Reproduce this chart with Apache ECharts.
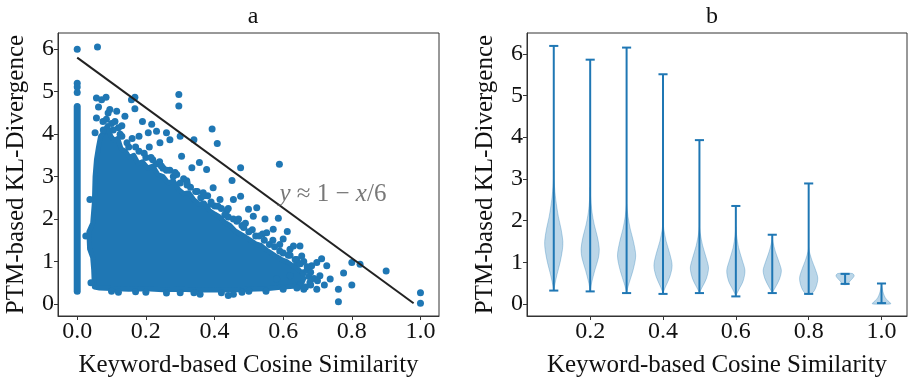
<!DOCTYPE html>
<html><head><meta charset="utf-8">
<script src="https://cdn.jsdelivr.net/npm/echarts@6/dist/echarts.min.js"></script>
<style>html,body{margin:0;padding:0;background:#fff}#c{width:914px;height:383px}</style>
</head><body><div id="c"></div>
<script>
// ---------- tick labels ----------
const xTicksA = [0, 0.2, 0.4, 0.6, 0.8, 1.0];
const xTicksB = [0.2, 0.4, 0.6, 0.8, 1.0];
const yTicks = [0, 1, 2, 3, 4, 5, 6];
const titles = ['a', 'b'];
const xName = 'Keyword-based Cosine Similarity';
const yName = 'PTM-based KL-Divergence';

// ---------- panel a: scatter ----------
// vertical strip of points at x = 0
const stripX = [0, 0];
const stripY = [0.3, 4.65];
// outline of the densely filled region of points
const blobX = [0.062,0.068,0.078,0.088,0.098,0.108,0.118,0.128,0.14,0.152,0.165,0.178,0.19,0.205,0.22,0.235,0.25,0.265,0.28,0.295,0.31,0.325,0.34,0.355,0.37,0.385,0.4,0.415,0.43,0.445,0.46,0.475,0.49,0.505,0.52,0.535,0.55,0.565,0.58,0.595,0.61,0.625,0.64,0.655,0.66,0.655,
  0.63,0.6,0.55,0.5,0.45,0.4,0.35,0.3,0.25,0.2,0.15,0.1,0.065,0.05,
  0.048,0.045,0.036,0.034,0.045,0.05,0.052,0.056];
const blobY = [3.7,3.95,4.05,4.2,3.95,3.85,3.9,3.65,3.6,3.45,3.5,3.3,3.35,3.2,3.25,3.05,3.0,2.85,2.9,2.7,2.6,2.62,2.45,2.35,2.38,2.2,2.12,2.05,1.92,1.85,1.72,1.65,1.58,1.5,1.42,1.38,1.28,1.2,1.12,1.05,1.0,0.92,0.85,0.72,0.6,0.5,
  0.42,0.4,0.36,0.35,0.33,0.34,0.33,0.35,0.34,0.36,0.35,0.37,0.38,0.4,
  0.8,1.1,1.3,1.7,1.9,2.4,3.0,3.4];
// individually visible points
const ptX = [0,0.059,0,0,0,0.296,0.296,0.589,0.393,0.408,0.476,0.451,0.476,0.586,0.612,0.712,0.8,0.824,0.9,0.776,0.8,0.761,0.761,1.0,1.0,0.34,0.30,
  0.056,0.071,0.084,0.062,0.095,0.056,0.115,0.139,0.158,0.168,0.168,0.19,0.217,0.207,0.231,0.26,0.27,0.241,0.052,0.076,0.12,
  0.304,0.334,0.356,0.319,0.377,0.396,0.367,0.416,0.401,0.435,0.455,0.499,0.523,0.455,0.513,0.547,0.552,0.571,0.6,0.62,0.63,0.649,0.654,0.64,0.683,0.698,0.727,0.737,0.707,0.678,0.649,0.698,0.455,0.44,0.358,0.581,0.62,0.659,
  0.15,0.18,0.2,0.23,0.25,0.28,0.32,0.36,0.39,0.43,0.48,0.52,0.56,0.6,0.64,0.67,0.69,0.1,0.13,0.085,0.1,0.2,0.3,0.5,0.6,0.04,0.025,0.037,
  0.22,0.24,0.27,0.29,0.31,0.33,0.35,0.38,0.41,0.44,0.47,0.49,0.51,0.54,0.57,0.59,0.62,0.66,0.68,0.7,0.72,0.66,0.09,0.11,0.13,0.16,0.18,0.21,
  0.075,0.105,0.125,0.145,0.17,0.195,0.215,0.245,0.26,0.285,0.3,0.32,0.345,0.37,0.39,0.42,0.44,0.465,0.485,0.5,0.53,0.545,0.575,0.59,0.615,0.635,0.65,0.67,0.675,0.68,0.665,0.64,
  0.12,0.17,0.26,0.34,0.42,0.48,0.55];
const ptY = [6.0,6.05,5.2,5.11,4.98,4.93,4.66,3.29,4.12,3.78,3.21,2.91,2.54,2.02,1.71,1.07,0.98,0.94,0.78,0.73,0.45,0.35,0.055,0.27,0.02,3.87,3.95,
  4.85,4.81,4.87,4.64,4.58,4.38,4.54,4.42,4.81,4.6,4.87,4.3,4.23,4.03,4.07,4.03,3.87,3.8,4.03,4.1,4.15,
  3.48,3.21,3.33,2.9,3.17,2.74,2.62,2.46,2.31,2.19,2.46,2.23,2.27,2.0,2.07,2.0,1.68,1.76,1.53,1.29,1.37,1.37,1.13,0.98,0.9,0.98,0.9,0.59,0.67,0.51,0.43,0.35,0.23,0.2,0.23,0.59,0.67,0.74,
  3.7,3.6,3.45,3.3,3.2,3.0,2.8,2.5,2.35,2.1,1.85,1.6,1.4,1.2,1.05,0.8,0.6,4.25,3.95,4.35,0.3,0.28,0.27,0.3,0.35,0.5,1.6,2.46,
  3.4,3.35,3.15,3.05,2.95,2.75,2.65,2.55,2.3,2.25,2.0,1.9,1.75,1.65,1.5,1.4,1.15,1.0,0.75,0.55,0.45,0.35,4.5,4.3,4.2,3.9,3.95,3.7,
  4.3,4.1,4.0,3.8,3.7,3.55,3.45,3.25,3.15,3.1,2.85,2.85,2.65,2.55,2.4,2.25,2.05,1.95,1.8,1.7,1.6,1.5,1.35,1.25,1.15,1.05,0.95,0.88,0.65,0.45,0.4,0.38,
  0.28,0.29,0.26,0.27,0.27,0.28,0.3];
// fitted line y ≈ 1 - x/6 (scaled)
const fitX = [0, 0.98];
const fitY = [5.8, 0.02];
const annoX = [0.745];
const annoY = [2.58];

// ---------- panel b: violins ----------
const violinPos = [0.1,0.2,0.3,0.4,0.5,0.6,0.7,0.8,0.9,1.0];
const violinMin = [0.32,0.30,0.26,0.24,0.26,0.18,0.26,0.24,0.48,0.02];
const violinMax = [6.19,5.86,6.15,5.51,3.93,2.35,1.66,2.89,0.72,0.49];
const profY = [
  [0.33,0.45,0.7,1.0,1.3,1.5,1.8,2.1,2.5,2.9,3.2],
  [0.32,0.5,0.8,1.1,1.32,1.6,1.9,2.2,2.6,2.8],
  [0.28,0.45,0.8,1.15,1.5,1.8,2.1,2.4],
  [0.26,0.4,0.65,0.92,1.2,1.5,1.8,2.0],
  [0.27,0.4,0.6,0.86,1.1,1.4,1.7,1.85],
  [0.2,0.35,0.55,0.8,1.05,1.35,1.65,1.85],
  [0.27,0.4,0.6,0.8,1.0,1.25,1.5,1.6],
  [0.25,0.4,0.62,0.85,1.05,1.25,1.35],
  [0.47,0.55,0.62,0.68,0.73,0.74],
  [0.0,0.05,0.12,0.2,0.3,0.4,0.45]
];
const profW = [
  [0,0.1,0.35,0.7,0.95,1.0,0.8,0.5,0.22,0.05,0],
  [0,0.15,0.5,0.9,1.0,0.8,0.45,0.2,0.03,0],
  [0,0.2,0.7,1.0,0.75,0.4,0.15,0],
  [0,0.25,0.75,1.0,0.75,0.35,0.08,0],
  [0,0.3,0.75,1.0,0.75,0.35,0.08,0],
  [0,0.35,0.8,1.0,0.7,0.3,0.08,0],
  [0,0.35,0.8,1.0,0.75,0.35,0.06,0],
  [0.35,0.8,1.0,0.7,0.35,0.08,0],
  [0.25,0.55,0.85,1.0,0.8,0],
  [1.0,0.85,0.5,0.3,0.15,0.05,0]
];

// ---------- styles ----------
const FONT = 'Liberation Serif';
const BLUE = '#1f77b4';
const VIOLIN_HALF = 0.025;
const CAP_HALF = 0.0125;
const TICK_FS = 24, NAME_FS = 25;

const zip = (a, b) => a.map((v, i) => [v, b[i]]);

function axisX(idx, min, max, ticks) {
  return {
    type: 'value', gridIndex: idx, min, max,
    splitLine: {show: false},
    axisLine: {show: true, onZero: false, lineStyle: {color: '#333', width: 1}},
    axisTick: {show: true, customValues: ticks, length: 4, lineStyle: {color: '#333'}},
    axisLabel: {customValues: ticks, formatter: v => v.toFixed(1), fontSize: TICK_FS, color: '#111', fontFamily: FONT, margin: 4},
    name: xName, nameLocation: 'middle', nameGap: 37,
    nameTextStyle: {fontSize: NAME_FS, color: '#111', fontFamily: FONT}
  };
}
function axisY(idx, min, max) {
  return {
    type: 'value', gridIndex: idx, min, max,
    splitLine: {show: false},
    axisLine: {show: true, onZero: false, lineStyle: {color: '#333', width: 1}},
    axisTick: {show: true, customValues: yTicks, length: 4, lineStyle: {color: '#333'}},
    axisLabel: {customValues: yTicks, formatter: v => String(v), fontSize: TICK_FS, color: '#111', fontFamily: FONT, margin: 4},
    name: yName, nameLocation: 'middle', nameGap: 29, nameRotate: 90,
    nameTextStyle: {fontSize: NAME_FS, color: '#111', fontFamily: FONT}
  };
}

const chart = echarts.init(document.getElementById('c'), null, {renderer: 'canvas'});
chart.setOption({
  animation: false,
  backgroundColor: '#fff',
  title: [
    {text: titles[0], left: 248, top: 0, textAlign: 'center', textStyle: {fontSize: 24, fontWeight: 'normal', fontFamily: FONT, color: '#111'}},
    {text: titles[1], left: 707, top: 0, textAlign: 'center', textStyle: {fontSize: 24, fontWeight: 'normal', fontFamily: FONT, color: '#111'}}
  ],
  grid: [
    {left: 58, top: 33, width: 381, height: 284, show: true, borderColor: '#333', borderWidth: 1},
    {left: 527, top: 33, width: 380, height: 284, show: true, borderColor: '#333', borderWidth: 1}
  ],
  xAxis: [axisX(0, -0.056, 1.054, xTicksA), axisX(1, 0.0265, 1.07, xTicksB)],
  yAxis: [axisY(0, -0.28, 6.38), axisY(1, -0.29, 6.5)],
  series: [
    {
      type: 'custom', xAxisIndex: 0, yAxisIndex: 0, data: [[0, 0]], silent: true, z: 2,
      renderItem: (params, api) => ({
        type: 'polygon',
        shape: {points: blobX.map((x, i) => api.coord([x, blobY[i]]))},
        style: {fill: BLUE, stroke: BLUE, lineWidth: 5, lineJoin: 'round'}
      })
    },
    {
      type: 'line', xAxisIndex: 0, yAxisIndex: 0, data: zip(stripX, stripY), symbol: 'none', silent: true, z: 2,
      lineStyle: {color: BLUE, width: 7, cap: 'round'}
    },
    {
      type: 'scatter', xAxisIndex: 0, yAxisIndex: 0, data: zip(ptX, ptY), symbolSize: 7, silent: true, z: 3,
      itemStyle: {color: BLUE, opacity: 1}
    },
    {
      type: 'line', xAxisIndex: 0, yAxisIndex: 0, data: zip(fitX, fitY), symbol: 'none', silent: true, z: 4,
      lineStyle: {color: '#222', width: 2}
    },
    {
      type: 'scatter', xAxisIndex: 0, yAxisIndex: 0, data: zip(annoX, annoY), symbolSize: 0, silent: true, z: 5,
      label: {
        show: true, position: 'inside',
        formatter: '{i|y} ≈ 1 − {i|x}/6',
        fontSize: 25, fontFamily: FONT, color: '#555',
        rich: {i: {fontStyle: 'italic', fontSize: 25, fontFamily: FONT, color: '#555'}}
      }
    },
    {
      type: 'custom', xAxisIndex: 1, yAxisIndex: 1, data: violinPos.map((p, i) => [p, violinMax[i]]), silent: true,
      renderItem: (params, api) => {
        const i = params.dataIndex;
        const x = violinPos[i];
        const right = profY[i].map((y, k) => api.coord([x + profW[i][k] * VIOLIN_HALF, y]));
        const left = profY[i].map((y, k) => api.coord([x - profW[i][k] * VIOLIN_HALF, y])).reverse();
        const lo = api.coord([x, violinMin[i]]);
        const hi = api.coord([x, violinMax[i]]);
        const cl = api.coord([x - CAP_HALF, violinMin[i]]);
        const cr = api.coord([x + CAP_HALF, violinMin[i]]);
        const tl = api.coord([x - CAP_HALF, violinMax[i]]);
        const tr = api.coord([x + CAP_HALF, violinMax[i]]);
        const ls = {stroke: BLUE, lineWidth: 2};
        return {
          type: 'group',
          children: [
            {type: 'polygon', shape: {points: right.concat(left), smooth: 0.3}, style: {fill: 'rgba(31,119,180,0.3)', stroke: 'rgba(31,119,180,0.3)', lineWidth: 1}},
            {type: 'line', shape: {x1: lo[0], y1: lo[1], x2: hi[0], y2: hi[1]}, style: ls},
            {type: 'line', shape: {x1: cl[0], y1: cl[1], x2: cr[0], y2: cr[1]}, style: ls},
            {type: 'line', shape: {x1: tl[0], y1: tl[1], x2: tr[0], y2: tr[1]}, style: ls}
          ]
        };
      }
    }
  ]
});
</script>
</body></html>
